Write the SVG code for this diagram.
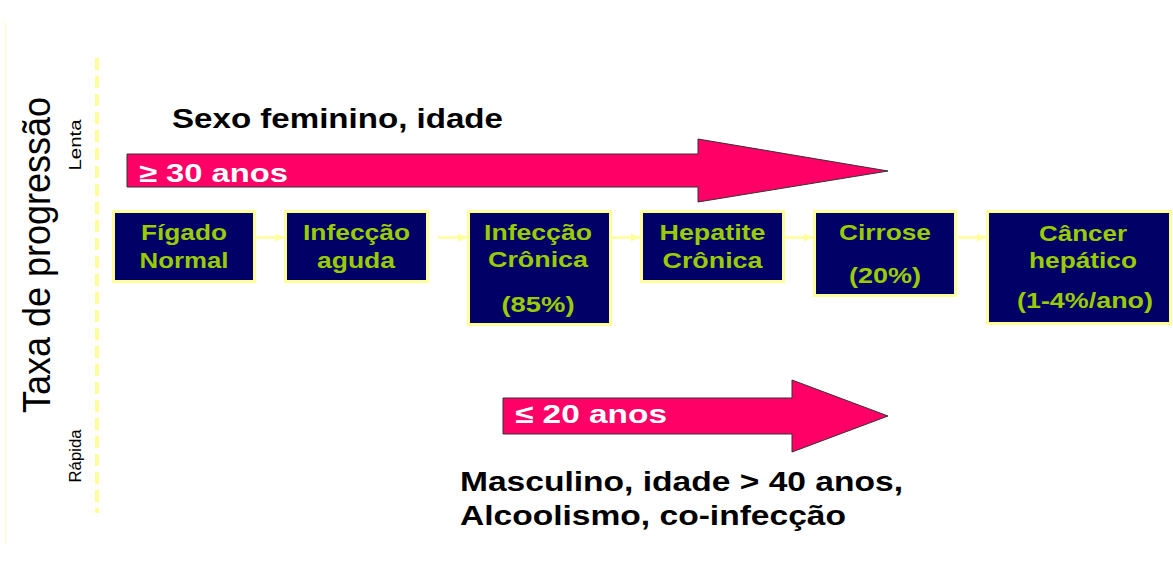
<svg xmlns="http://www.w3.org/2000/svg" width="1173" height="563" viewBox="0 0 1173 563">
<style>
.box{fill:#000066;stroke:#FFFF99;stroke-width:3}
.bt{font-family:"Liberation Sans",Arial,sans-serif;font-weight:bold;font-size:22px;fill:#99CC00;text-anchor:middle}
.arr{fill:#FF0066;stroke:#333333;stroke-width:1}
.at{font-family:"Liberation Sans",Arial,sans-serif;font-weight:bold;font-size:26px;fill:#FFFFFF}
.lbl{font-family:"Liberation Sans",Arial,sans-serif;font-weight:bold;font-size:28px;fill:#000000}
.side{font-family:"Liberation Sans",Arial,sans-serif;fill:#000000}
.con{stroke:#FFFF99;stroke-width:2.5;fill:none}
</style>
<defs>
<marker id="ah" markerUnits="userSpaceOnUse" markerWidth="10" markerHeight="10" refX="9" refY="5" orient="auto">
<path d="M0,1 L9,5 L0,9 Z" fill="#FFFF99"/>
</marker>
</defs>
<rect width="1173" height="563" fill="#FFFFFF"/>
<line x1="5.5" y1="20" x2="5.5" y2="545" stroke="#FFFFCC" stroke-width="1"/>
<line x1="97" y1="58" x2="97" y2="513" stroke="#FFFF99" stroke-width="4" stroke-dasharray="12 6"/>
<g id="axis-label">
<text class="side" font-size="38" transform="translate(50,255) rotate(-90)" text-anchor="middle" textLength="316" lengthAdjust="spacingAndGlyphs">Taxa de progressão</text>
<text class="side" font-size="17" transform="translate(81,145) rotate(-90)" text-anchor="middle" textLength="51" lengthAdjust="spacingAndGlyphs">Lenta</text>
<text class="side" font-size="17" transform="translate(81,456) rotate(-90)" text-anchor="middle" textLength="53" lengthAdjust="spacingAndGlyphs">Rápida</text>
</g>
<g id="arrow-slow">
<path class="arr" d="M127,154 L698,154 L698,139 L888,171 L698,202 L698,187 L127,187 Z"/>
<text class="at" x="139" y="182" textLength="149" lengthAdjust="spacingAndGlyphs">≥ 30 anos</text>
</g>
<text class="lbl" x="172" y="128" font-size="30" textLength="331" lengthAdjust="spacingAndGlyphs">Sexo feminino, idade</text>
<g id="arrow-fast">
<path class="arr" d="M503,398 L792,398 L792,380 L888,416 L792,452 L792,434 L503,434 Z"/>
<text class="at" x="515" y="423" textLength="152" lengthAdjust="spacingAndGlyphs">≤ 20 anos</text>
</g>
<text class="lbl" x="460" y="491" textLength="443" lengthAdjust="spacingAndGlyphs">Masculino, idade &gt; 40 anos,</text>
<text class="lbl" x="460" y="525" textLength="386" lengthAdjust="spacingAndGlyphs">Alcoolismo, co-infecção</text>
<g id="connectors">
<line class="con" x1="256" y1="237.5" x2="284" y2="237.5" marker-end="url(#ah)"/>
<line class="con" x1="438" y1="237.5" x2="467" y2="237.5" marker-end="url(#ah)"/>
<line class="con" x1="612" y1="237.5" x2="640" y2="237.5" marker-end="url(#ah)"/>
<line class="con" x1="785" y1="237.5" x2="813" y2="237.5" marker-end="url(#ah)"/>
<line class="con" x1="958" y1="237.5" x2="986" y2="237.5" marker-end="url(#ah)"/>
</g>
<g id="n-figado">
<rect class="box" x="113.5" y="211.5" width="141" height="70"/>
<text class="bt" x="184" y="240" textLength="86" lengthAdjust="spacingAndGlyphs">Fígado</text>
<text class="bt" x="184" y="268" textLength="89" lengthAdjust="spacingAndGlyphs">Normal</text>
</g>
<g id="n-aguda">
<rect class="box" x="285.5" y="211.5" width="142" height="70"/>
<text class="bt" x="356.5" y="240" textLength="107" lengthAdjust="spacingAndGlyphs">Infecção</text>
<text class="bt" x="356" y="268" textLength="78" lengthAdjust="spacingAndGlyphs">aguda</text>
</g>
<g id="n-cronica">
<rect class="box" x="468.5" y="211.5" width="142" height="113"/>
<text class="bt" x="538" y="240" textLength="108" lengthAdjust="spacingAndGlyphs">Infecção</text>
<text class="bt" x="538" y="267" textLength="100" lengthAdjust="spacingAndGlyphs">Crônica</text>
<text class="bt" x="538" y="312" textLength="73" lengthAdjust="spacingAndGlyphs">(85%)</text>
</g>
<g id="n-hepatite">
<rect class="box" x="641.5" y="211.5" width="142" height="70"/>
<text class="bt" x="712.5" y="240" textLength="106" lengthAdjust="spacingAndGlyphs">Hepatite</text>
<text class="bt" x="712.5" y="268" textLength="100" lengthAdjust="spacingAndGlyphs">Crônica</text>
</g>
<g id="n-cirrose">
<rect class="box" x="814.5" y="211.5" width="141" height="84"/>
<text class="bt" x="885" y="240" textLength="92" lengthAdjust="spacingAndGlyphs">Cirrose</text>
<text class="bt" x="885" y="283" textLength="72" lengthAdjust="spacingAndGlyphs">(20%)</text>
</g>
<g id="n-cancer">
<rect class="box" x="987.5" y="211.5" width="183" height="112"/>
<text class="bt" x="1083" y="241" textLength="88" lengthAdjust="spacingAndGlyphs">Câncer</text>
<text class="bt" x="1083" y="268" textLength="108" lengthAdjust="spacingAndGlyphs">hepático</text>
<text class="bt" x="1085" y="308" textLength="136" lengthAdjust="spacingAndGlyphs">(1-4%/ano)</text>
</g>
</svg>
